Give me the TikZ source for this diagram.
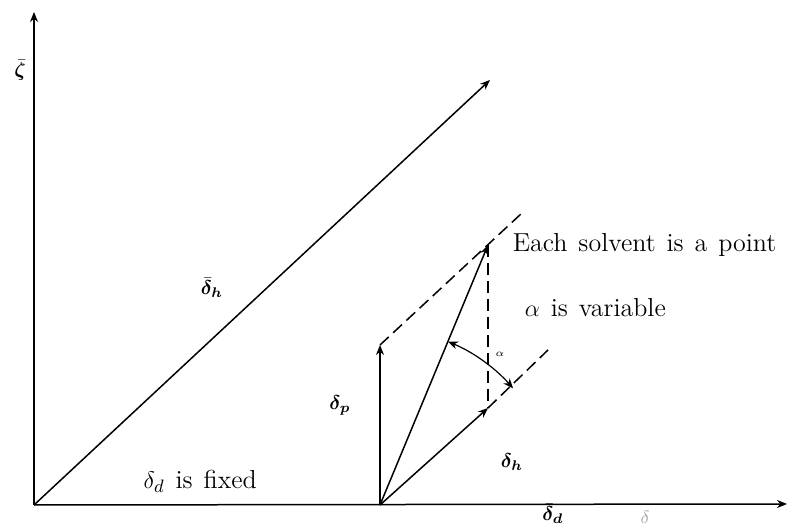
\documentclass[tikz,border=0pt]{standalone}
\usepackage{amsmath}
\usepackage{amssymb}
\usepackage{bm}
\usepackage{tikz}
\usetikzlibrary{arrows.meta}
\newcommand\widesp{\spaceskip=0.42em\relax}

\begin{document}
\begin{tikzpicture}
    [x=0.5pt, y=-0.5pt, line width=0.75pt,
     vec/.style={-{Stealth[length=5pt,width=4pt]}},
     guide/.style={dashed, dash pattern=on 6pt off 3pt},
     sym/.style={inner sep=1pt, font=\normalsize},
     lbl/.style={inner sep=1pt, anchor=west, font=\fontsize{13}{15}\selectfont\widesp}]
    \useasboundingbox (0,0) rectangle (789,528);
    \coordinate (O) at (34,505);
    \coordinate (Ytop) at (34,12);
    \coordinate (Xend) at (787,504);
    \coordinate (Htop) at (490,80);
    \coordinate (P0) at (380,505);
    \coordinate (Ptop) at (380,345);
    \coordinate (Hend) at (488,408);
    \coordinate (Sol) at (488,245);
    \coordinate (Dup) at (522,213);
    \coordinate (Ddown) at (548,350);
    \coordinate (Astart) at (448,341.6);
    % axes
    \draw[vec] (O) -- (Ytop);
    \draw[vec] (O) -- (Xend);
    \draw[vec] (O) -- (Htop);
    % components of one solvent
    \draw[vec] (P0) -- (Ptop);
    \draw[vec] (P0) -- (Hend);
    \draw[vec] (P0) -- (Sol);
    \draw[guide] (Ptop) -- (Dup);
    \draw[guide] (Hend) -- (Ddown);
    \draw[guide] (Sol) -- (Hend);
    \draw[{Stealth[length=5pt,width=4pt]}-{Stealth[length=5pt,width=4pt]}, line width=0.6pt]
      (Astart) arc[start angle=67.4, end angle=41.2, radius=88.5pt];
    % labels
    \node[sym] (zeta) at (20,70) {$\bar{\bm\zeta}$};
    \node[sym] (hbar) at (212,288) {$\bar{\bm\delta}_{\bm h}$};
    \node[sym] (dp) at (340,405) {$\bm{\delta_p}$};
    \node[sym] (dh) at (512,462) {$\bm{\delta_h}$};
    \node[sym] (dd) at (553,514) {$\bar{\bm\delta}_{\bm d}$};
    \node[sym, text=black!35] (dfaint) at (645,517) {\small$\delta$};
    \node[sym] (alpha) at (500,354) {\tiny$\alpha$};
    \node[lbl] (point) at (510,245) {Each solvent is a point};
    \node[lbl] (var) at (522,308) {$\alpha$ is variable};
    \node[lbl] (fixed) at (141,481) {$\delta_d$ is fixed};
  \end{tikzpicture}
\end{document}
